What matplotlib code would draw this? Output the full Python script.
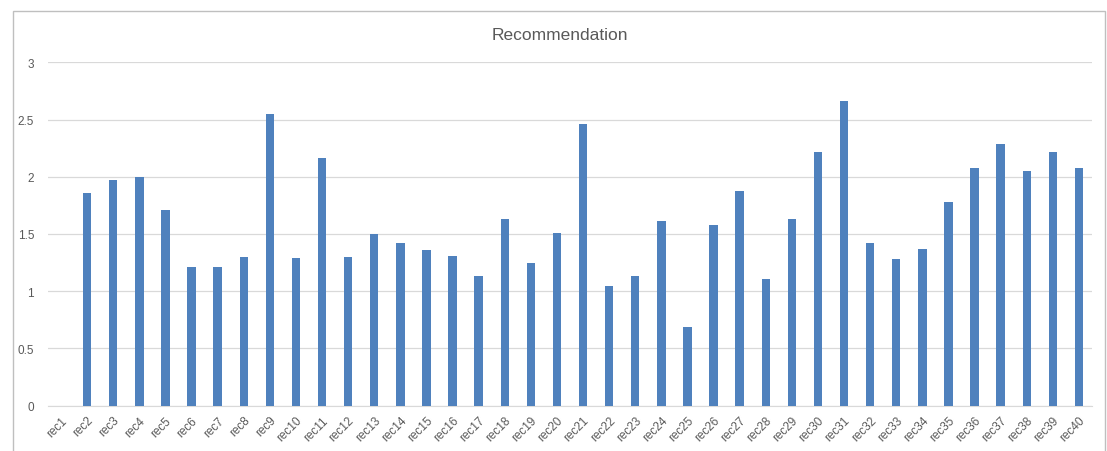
import matplotlib.pyplot as plt
from matplotlib.patches import Rectangle

labels = ['rec%d' % i for i in range(1, 41)]
scores = [0, 1.86, 1.97, 2.00, 1.71, 1.21, 1.21, 1.30, 2.55, 1.29,
          2.16, 1.30, 1.50, 1.42, 1.36, 1.31, 1.13, 1.63, 1.25, 1.51,
          2.46, 1.05, 1.13, 1.61, 0.69, 1.58, 1.88, 1.11, 1.63, 2.22,
          2.66, 1.42, 1.28, 1.37, 1.78, 2.08, 2.29, 2.05, 2.22, 2.08]
yticks = [0, 0.5, 1, 1.5, 2, 2.5, 3]
ytick_labels = ['0', '0.5', '1', '1.5', '2', '2.5', '3']

plt.rcParams['font.family'] = ['Liberation Sans', 'DejaVu Sans']
grey = '#595959'

fig = plt.figure(figsize=(11.07, 4.52), dpi=100)
ax = fig.add_axes([48 / 1107, 1 - 406.7 / 452, 1044 / 1107, 343.4 / 452])

x = range(len(labels))
ax.bar(x, scores, width=0.32, color='#4F81BD', zorder=3)

ax.set_xlim(-0.5, len(labels) - 0.5)
ax.set_ylim(0, 3)
ax.set_yticks(yticks)
ax.set_yticklabels(ytick_labels)
ax.set_xticks(list(x))
ax.set_xticklabels(labels, rotation=45, ha='right', rotation_mode='anchor')
ax.tick_params(axis='both', length=0, colors=grey, labelsize=8.5)
ax.tick_params(axis='y', pad=10)
ax.tick_params(axis='x', pad=6)
ax.grid(axis='y', color='#D9D9D9', linewidth=0.9, zorder=0)
for side in ['top', 'right', 'left']:
    ax.spines[side].set_visible(False)
ax.spines['bottom'].set_color('#D9D9D9')

fig.text(560 / 1107, 1 - 36 / 452, 'Recommendation', ha='center', va='center',
         fontsize=12.5, color=grey)

# chart frame like the Excel chart area (bottom edge runs off the picture)
fig.patches.append(Rectangle((13 / 1107, -0.05), 1092 / 1107, 1.05 - 12 / 452,
                             transform=fig.transFigure, fill=False,
                             edgecolor='#BFBFBF', linewidth=1))

fig.savefig('out.png', dpi=100, facecolor='white')
